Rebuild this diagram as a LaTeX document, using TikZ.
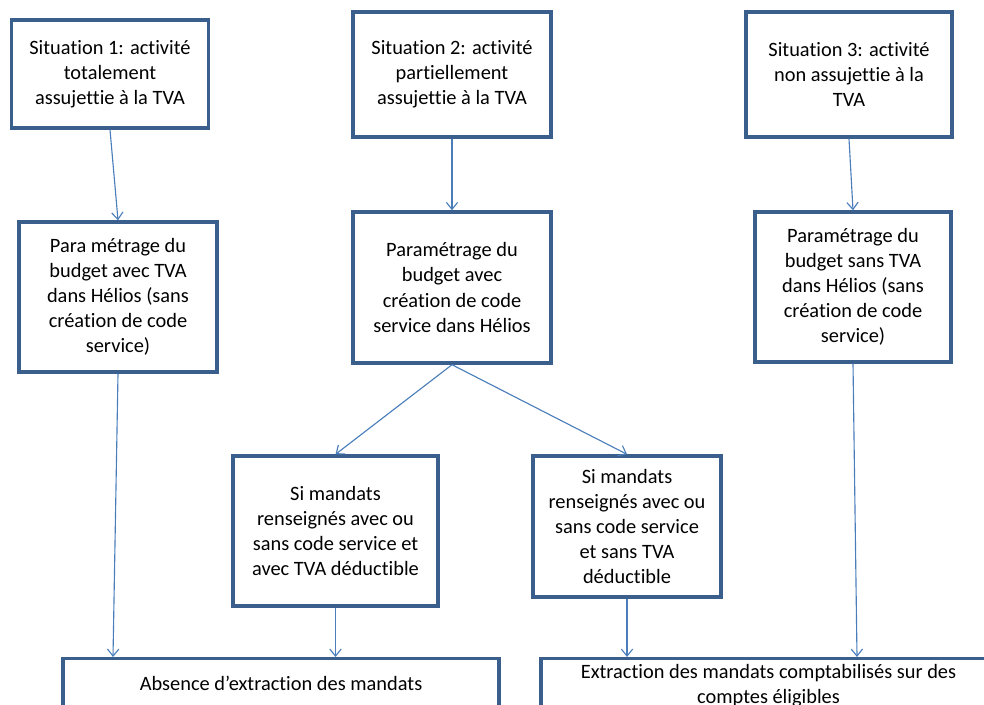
\documentclass[tikz,border=0pt]{standalone}
\usepackage{fontspec}
\setmainfont[Ligatures=NoCommon]{Carlito}
\usetikzlibrary{arrows.meta}
\definecolor{bordbleu}{HTML}{3A5F8C}
\definecolor{flechebleu}{HTML}{4A7EBB}
\begin{document}
\begin{tikzpicture}[x=0.025cm,y=-0.025cm,>={Straight Barb[length=5pt,width=8pt]},
	boite/.style={draw=bordbleu,line width=2.4pt,align=center,inner sep=2pt,font=\fontsize{14.5}{17.8}\selectfont},
	fleche/.style={->,draw=flechebleu,line width=0.8pt}]
	\useasboundingbox (0,0) rectangle (984,704);
	\clip (0,0) rectangle (984,704);
	%situations
	\node[boite,minimum width=4.925cm,minimum height=2.7cm] (s1) at (110,74) {Situation 1: activité\\totalement\\assujettie à la TVA};
	\node[boite,minimum width=4.95cm,minimum height=3.125cm] (s2) at (452,74.5) {Situation 2: activité\\partiellement\\assujettie à la TVA};
	\node[boite,minimum width=5.15cm,minimum height=3.125cm] (s3) at (849,74.5) {Situation 3: activité\\non assujettie à la\\TVA};
	%paramétrage
	\node[boite,minimum width=4.95cm,minimum height=3.75cm] (p1) at (118,297) {Para métrage du\\budget avec TVA\\dans Hélios (sans\\création de code\\service)};
	\node[boite,minimum width=4.95cm,minimum height=3.775cm] (p2) at (452,287.5) {Paramétrage du\\budget avec\\création de code\\service dans Hélios};
	\node[boite,minimum width=4.9cm,minimum height=3.75cm] (p3) at (853,287) {Paramétrage du\\budget sans TVA\\dans Hélios (sans\\création de code\\service)};
	%mandats
	\node[boite,minimum width=5.125cm,minimum height=3.75cm] (m1) at (335.5,531) {Si mandats\\renseignés avec ou\\sans code service et\\avec TVA déductible};
	\node[boite,minimum width=4.7cm,minimum height=3.525cm] (m2) at (627,526.5) {Si mandats\\renseignés avec ou\\sans code service\\et sans TVA\\déductible};
	%extraction
	\node[boite,anchor=north,inner sep=0pt,minimum width=10.9cm,text height=0.8cm,text depth=3cm] (b1) at (281,657) {Absence d’extraction des mandats};
	\node[boite,anchor=north,inner sep=0pt,minimum width=11.375cm,text height=1.125cm,text depth=3cm] (b2) at (768.5,657) {Extraction des mandats comptabilisés sur des\\comptes éligibles};
	%flèches
	\draw[fleche] (s1.south) -- (p1.north);
	\draw[fleche] (s2.south) -- (p2.north);
	\draw[fleche] (s3.south) -- (p3.north);
	\draw[fleche] (p2.south) -- (m1.north);
	\draw[fleche] (p2.south) -- (m2.north);
	\draw[fleche] (p1.south) -- ([xshift=-0.125cm]p1.south |- b1.north);
	\draw[fleche] (m1.south) -- (m1.south |- b1.north);
	\draw[fleche] (m2.south) -- (m2.south |- b2.north);
	\draw[fleche] (p3.south) -- ([xshift=0.1cm]p3.south |- b2.north);
\end{tikzpicture}
\end{document}
